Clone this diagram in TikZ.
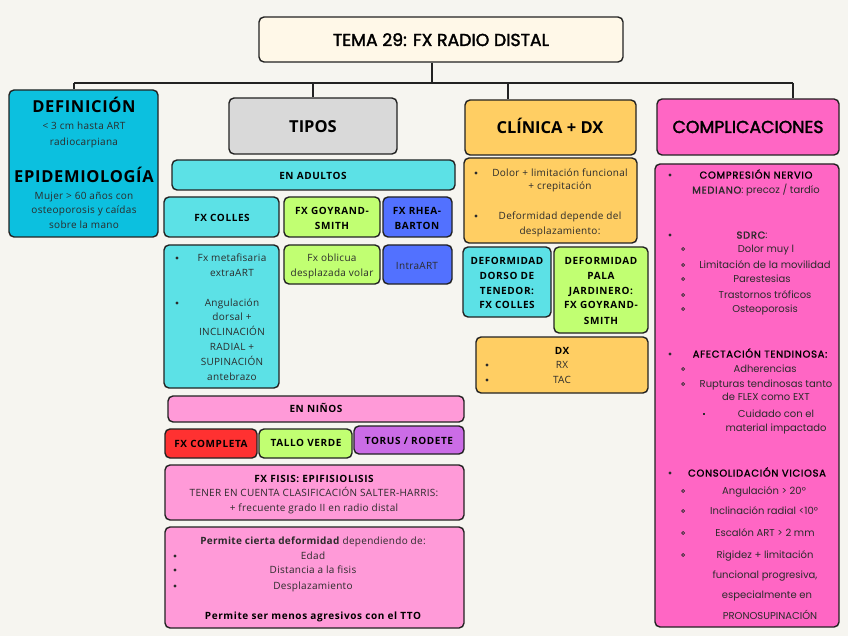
\documentclass[tikz,border=0pt]{standalone}
\usepackage{fontspec}
\setmainfont{Open Sans}
\newfontfamily\pop{Poppins}
\newfontfamily\popm{Poppins}[FakeBold=1.5]
\newfontfamily\popt{Poppins}[FakeBold=2]
\definecolor{bgc}{HTML}{F6F5F0}
\definecolor{linec}{HTML}{222222}
\definecolor{titlec}{HTML}{FFF8E8}
\definecolor{defc}{HTML}{0CC0DF}
\definecolor{grayc}{HTML}{D9D9D9}
\definecolor{orc}{HTML}{FFCE63}
\definecolor{pinkc}{HTML}{FF66C4}
\definecolor{cyc}{HTML}{5CE1E6}
\definecolor{limec}{HTML}{C1FF72}
\definecolor{bluec}{HTML}{5271FF}
\definecolor{lpinkc}{HTML}{FF9AD8}
\definecolor{redc}{HTML}{FF3131}
\definecolor{purc}{HTML}{CB6CE6}
\definecolor{txtc}{HTML}{2B2B2B}
\newcounter{tn}
\newcommand\mybox[6]{\node[boxst, fill=#6, minimum width={(#4-#2)*1pt}, minimum height={(#5-#3)*1pt}] (#1) at ({(#2+#4)/2},{(#3+#5)/2}) {};}
\newcommand\tx[4][t]{\stepcounter{tn}\node[#1] (n\arabic{tn}) at (#2,#3) {#4};}
\newcommand\dotb[2]{\fill[txtc] (#1,#2) circle (1.7pt);}
\newcommand\ringb[2]{\draw[txtc, line width=0.7pt] (#1,#2) circle (1.5pt);}
\newcommand\sqb[2]{\fill[txtc] (#1-1.4,#2-1.4) rectangle (#1+1.4,#2+1.4);}
\tikzset{
  boxst/.style={draw=linec, line width=1.4pt, rounded corners=5pt, inner sep=0pt},
  conn/.style={draw=linec, line width=1.6pt},
  t/.style={anchor=base, inner sep=0pt, text=txtc, yshift=-3.6pt, font=\fontsize{10}{12}\selectfont\addfontfeature{LetterSpace=3}},
  tb/.style={t, text=black, font=\bfseries\fontsize{10}{12}\selectfont\addfontfeature{LetterSpace=6}},
  hd/.style={anchor=base, inner sep=0pt, text=black, yshift=-5.8pt, font=\bfseries\fontsize{16.5}{18}\selectfont},
  hdd/.style={hd, font=\bfseries\fontsize{16.5}{18}\selectfont\addfontfeature{LetterSpace=4}},
  ph/.style={anchor=base, inner sep=0pt, text=black, yshift=-6pt, font=\popt\fontsize{17.3}{19}\selectfont},
  pt/.style={t, text=txtc, font=\pop\fontsize{10}{12}\selectfont},
  pb/.style={t, text=black, font=\popm\fontsize{10}{12}\selectfont\addfontfeature{LetterSpace=7}},
}
\begin{document}
\begin{tikzpicture}[x=1pt, y=-1pt]
\fill[bgc] (0,0) rectangle (848,636);
\useasboundingbox (0,0) rectangle (848,636);
% boxes
\mybox{title}{259}{17}{623}{62}{titlec}
\mybox{defi}{9}{90}{158}{237}{defc}
\mybox{tipos}{229}{98}{397}{154}{grayc}
\mybox{clin}{465}{100}{636}{155}{orc}
\mybox{comp}{657}{99}{839}{155}{pinkc}
\mybox{adul}{172}{160}{455}{190}{cyc}
\mybox{colles}{164}{197}{279}{237}{cyc}
\mybox{goy}{284}{197}{380}{237}{limec}
\mybox{rhea}{383}{197}{452}{237}{bluec}
\mybox{collesd}{164}{245}{279}{388}{cyc}
\mybox{goyd}{284}{245}{380}{284}{limec}
\mybox{rhead}{383}{245}{452}{284}{bluec}
\mybox{ninos}{168}{396}{464}{422}{lpinkc}
\mybox{comple}{165}{429}{257}{458}{redc}
\mybox{tallo}{259}{429}{352}{458}{limec}
\mybox{torus}{354}{426}{464}{454}{purc}
\mybox{fisis}{165}{465}{464}{520}{lpinkc}
\mybox{perm}{165}{527}{464}{628}{lpinkc}
\mybox{clind}{464}{158}{637}{243}{orc}
\mybox{dorso}{463}{247}{551}{317}{cyc}
\mybox{pala}{554}{247}{648}{333}{limec}
\mybox{dx}{476}{337}{648}{393}{orc}
\mybox{compd}{655}{164}{839}{627}{pinkc}
% connectors
\coordinate (hl) at (74,83);
\coordinate (hc) at (508,83);
\coordinate (hr) at (793,83);
\draw[conn] (hl) -- (hr);
\draw[conn] ([xshift=-9pt]title.south) -- ([xshift=-9pt]title.south |- hl);
\draw[conn] (hl) -- (hl |- defi.north);
\draw[conn] (tipos.north |- hl) -- (tipos.north);
\draw[conn] (hc) -- (hc |- clin.north);
\draw[conn] (hr) -- (hr |- comp.north);
% headers
\tx[ph]{441}{40}{TEMA 29: FX RADIO DISTAL}
\tx[hd]{313}{127}{TIPOS}
\tx[hd]{550}{128}{CLÍNICA + DX}
\tx[ph]{748}{127}{COMPLICACIONES}
% definicion
\tx[hdd]{84}{107}{DEFINICIÓN}
\tx{84}{126}{< 3 cm hasta ART}
\tx{84}{142}{radiocarpiana}
\tx[hdd]{84}{177}{EPIDEMIOLOGÍA}
\tx{84}{196}{Mujer > 60 años con}
\tx{84}{210}{osteoporosis y caídas}
\tx{84}{225}{sobre la mano}
% adultos
\tx[tb]{313}{176}{EN ADULTOS}
\tx[tb]{222}{218}{FX COLLES}
\tx[tb]{332}{211}{FX GOYRAND-}
\tx[tb]{332}{226}{SMITH}
\tx[tb]{417}{211}{FX RHEA-}
\tx[tb]{417}{226}{BARTON}
\dotb{177}{258}
\tx{232}{258}{Fx metafisaria}
\tx{232}{273}{extraART}
\dotb{177}{303}
\tx{232}{303}{Angulación}
\tx{232}{317}{dorsal +}
\tx{232}{332}{INCLINACIÓN}
\tx{232}{347}{RADIAL +}
\tx{232}{362}{SUPINACIÓN}
\tx{232}{377}{antebrazo}
\tx{332}{258}{Fx oblicua}
\tx{332}{273}{desplazada volar}
\tx{417}{266}{IntraART}
% ninos
\tx[tb]{316}{409}{EN NIÑOS}
\tx[tb]{211}{444}{FX COMPLETA}
\tx[tb]{306}{443}{TALLO VERDE}
\tx[tb]{409}{441}{TORUS / RODETE}
\tx[tb]{314}{479}{FX FISIS: EPIFISIOLISIS}
\tx{314}{493}{TENER EN CUENTA CLASIFICACIÓN SALTER-HARRIS:}
\tx{314}{508}{+ frecuente grado II en radio distal}
\tx{313}{541}{\textbf{Permite cierta deformidad} dependiendo de:}
\dotb{175}{556}
\tx{313}{556}{Edad}
\dotb{175}{570}
\tx{313}{570}{Distancia a la fisis}
\dotb{175}{586}
\tx{313}{586}{Desplazamiento}
\tx[tb]{313}{616}{Permite ser menos agresivos con el TTO}
% clinica
\dotb{476}{173}
\tx{560}{173}{Dolor + limitación funcional}
\tx{560}{186}{+ crepitación}
\dotb{476}{216}
\tx{560}{216}{Deformidad depende del}
\tx{560}{231}{desplazamiento:}
\tx[tb]{507}{261}{DEFORMIDAD}
\tx[tb]{507}{276}{DORSO DE}
\tx[tb]{507}{291}{TENEDOR:}
\tx[tb]{507}{305}{FX COLLES}
\tx[tb]{601}{261}{DEFORMIDAD}
\tx[tb]{601}{276}{PALA}
\tx[tb]{601}{291}{JARDINERO:}
\tx[tb]{601}{305}{FX GOYRAND-}
\tx[tb]{601}{321}{SMITH}
\tx[tb]{562}{351}{DX}
\dotb{487}{365}
\tx{562}{365}{RX}
\dotb{487}{380}
\tx{562}{380}{TAC}
% complicaciones
\dotb{670}{175}
\tx[pb]{756}{175}{COMPRESIÓN NERVIO}
\tx[pt]{756}{190}{{\popm\addfontfeature{LetterSpace=7}MEDIANO}: precoz / tardío}
\dotb{670}{235}
\tx[pt]{752}{235}{{\popm\addfontfeature{LetterSpace=7}SDRC}:}
\ringb{683}{249}
\tx[pt]{766}{249}{Dolor muy l}
\ringb{683}{265}
\tx[pt]{765}{265}{Limitación de la movilidad}
\ringb{683}{279}
\tx[pt]{762}{279}{Parestesias}
\ringb{683}{295}
\tx[pt]{765}{295}{Trastornos tróficos}
\ringb{683}{309}
\tx[pt]{765}{309}{Osteoporosis}
\dotb{670}{354}
\tx[pb]{760}{354}{AFECTACIÓN TENDINOSA:}
\ringb{683}{369}
\tx[pt]{765}{369}{Adherencias}
\ringb{683}{384}
\tx[pt]{766}{384}{Rupturas tendinosas tanto}
\tx[pt]{766}{397}{de FLEX como EXT}
\sqb{704}{414}
\tx[pt]{776}{414}{Cuidado con el}
\tx[pt]{776}{428}{material impactado}
\dotb{670}{473}
\tx[pb]{757}{473}{CONSOLIDACIÓN VICIOSA}
\ringb{683}{491}
\tx[pt]{764}{491}{Angulación > 20°}
\ringb{683}{511}
\tx[pt]{764}{511}{Inclinación radial <10°}
\ringb{683}{533}
\tx[pt]{765}{533}{Escalón ART > 2 mm}
\ringb{683}{555}
\tx[pt]{765}{555}{Rigidez + limitación}
\tx[pt]{765}{575}{funcional progresiva,}
\tx[pt]{767}{595}{especialmente en}
\tx[pt]{770}{616}{PRONOSUPINACIÓN}
\end{tikzpicture}
\end{document}
